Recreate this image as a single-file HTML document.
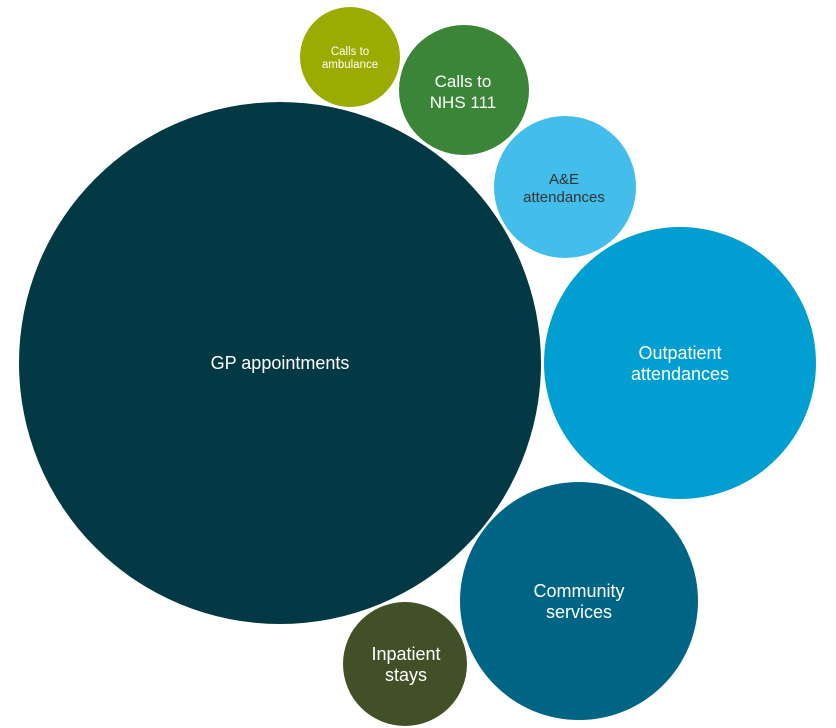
<!DOCTYPE html>
<html><head><meta charset="utf-8"><style>
html,body{margin:0;padding:0;background:#fff;}
svg{display:block;}
text{font-family:"Liberation Sans",sans-serif;text-anchor:middle;}
</style></head><body>
<svg width="836" height="728" viewBox="0 0 836 728">
<circle cx="280" cy="363" r="261" fill="#033845"/>
<circle cx="350" cy="57" r="50" fill="#9cab00"/>
<circle cx="464" cy="90" r="65" fill="#3a8538"/>
<circle cx="565" cy="187" r="71" fill="#43bde9"/>
<circle cx="680" cy="363" r="136" fill="#009ed1"/>
<circle cx="579" cy="601" r="119" fill="#006584"/>
<circle cx="405" cy="664" r="62" fill="#415026"/>
<text x="280" y="369" font-size="18" fill="#fff">GP appointments</text>
<text x="350" y="55" font-size="11.5" fill="#fff">Calls to</text>
<text x="350" y="68" font-size="11.5" fill="#fff">ambulance</text>
<text x="463" y="87" font-size="17" fill="#fff">Calls to</text>
<text x="463" y="108" font-size="17" fill="#fff">NHS 111</text>
<text x="564" y="184" font-size="15" fill="#333">A&amp;E</text>
<text x="564" y="202" font-size="15" fill="#333">attendances</text>
<text x="680" y="359" font-size="18" fill="#fff">Outpatient</text>
<text x="680" y="380" font-size="18" fill="#fff">attendances</text>
<text x="579" y="597" font-size="18" fill="#fff">Community</text>
<text x="579" y="618" font-size="18" fill="#fff">services</text>
<text x="406" y="660" font-size="18" fill="#fff">Inpatient</text>
<text x="406" y="681" font-size="18" fill="#fff">stays</text>
</svg>
</body></html>
